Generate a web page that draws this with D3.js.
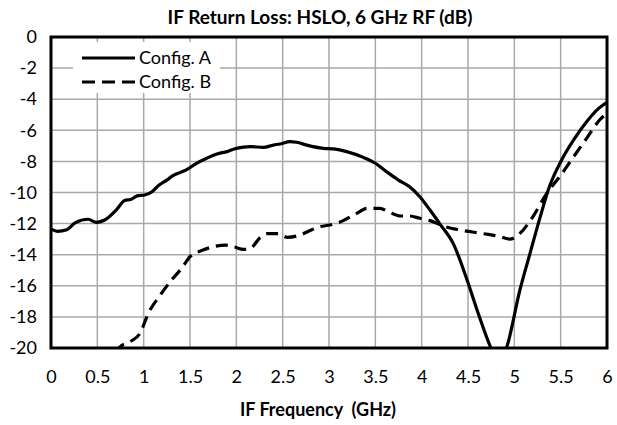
<!DOCTYPE html>
<html>
<head>
<meta charset="utf-8">
<script src="https://cdn.jsdelivr.net/npm/d3@7"></script>
<style>
  body { margin: 0; background: #fff; }
  svg { font-family: Lato, "Open Sans", sans-serif; }
</style>
</head>
<body>
<div id="chart"></div>
<script>
var freqA = [0.0, 0.07, 0.17, 0.26, 0.4, 0.49, 0.58, 0.71, 0.8, 0.86, 0.93, 1.01, 1.09, 1.16, 1.25, 1.32, 1.46, 1.57, 1.68, 1.79, 1.9, 2.0, 2.15, 2.29, 2.4, 2.47, 2.58, 2.65, 2.76, 2.94, 3.05, 3.19, 3.37, 3.5, 3.62, 3.75, 3.87, 3.98, 4.09, 4.2, 4.34, 4.49, 4.61, 4.74, 4.83, 4.92, 5.06, 5.17, 5.28, 5.38, 5.51, 5.64, 5.78, 5.91, 6.0];
var lossA = [-12.35, -12.5, -12.4, -11.95, -11.72, -11.92, -11.77, -11.08, -10.5, -10.45, -10.22, -10.16, -9.95, -9.55, -9.2, -8.9, -8.55, -8.12, -7.8, -7.52, -7.37, -7.16, -7.05, -7.1, -6.95, -6.88, -6.73, -6.77, -6.95, -7.16, -7.2, -7.37, -7.74, -8.12, -8.66, -9.2, -9.63, -10.27, -11.13, -12.05, -13.27, -15.63, -17.77, -19.9, -21.0, -19.9, -16.27, -13.9, -11.55, -9.6, -7.91, -6.62, -5.45, -4.59, -4.2];

var freqB = [0.7, 0.745, 0.85, 0.96, 1.05, 1.18, 1.3, 1.41, 1.5, 1.64, 1.75, 1.88, 1.97, 2.08, 2.15, 2.26, 2.33, 2.45, 2.55, 2.69, 2.79, 2.9, 3.01, 3.12, 3.3, 3.41, 3.55, 3.64, 3.77, 3.87, 3.98, 4.09, 4.23, 4.41, 4.67, 4.85, 4.95, 5.06, 5.2, 5.35, 5.49, 5.64, 5.78, 5.92, 6.0];
var lossB = [-20.3, -19.92, -19.6, -19.06, -17.77, -16.59, -15.63, -14.88, -14.13, -13.7, -13.49, -13.38, -13.49, -13.66, -13.6, -12.88, -12.65, -12.65, -12.88, -12.73, -12.46, -12.2, -12.09, -11.9, -11.34, -11.02, -11.02, -11.23, -11.51, -11.51, -11.66, -11.81, -12.15, -12.41, -12.65, -12.84, -13.0, -12.63, -11.56, -10.05, -8.98, -7.7, -6.52, -5.34, -4.9];

var xTicks = [0, 0.5, 1, 1.5, 2, 2.5, 3, 3.5, 4, 4.5, 5, 5.5, 6];
var yTicks = [0, -2, -4, -6, -8, -10, -12, -14, -16, -18, -20];
var seriesNames = ["Config. A", "Config. B"];

var width = 617, height = 425;
var margin = {top: 37, right: 10, bottom: 77, left: 51};
var w = width - margin.left - margin.right;
var h = height - margin.top - margin.bottom;

var svg = d3.select("#chart").append("svg")
  .attr("width", width)
  .attr("height", height);

var x = d3.scaleLinear().domain([0, 6]).range([0, w]);
var y = d3.scaleLinear().domain([-20, 0]).range([h, 0]);

var g = svg.append("g")
  .attr("transform", "translate(" + margin.left + "," + margin.top + ")");

// grid
g.selectAll(".vgrid").data(xTicks).enter().append("line")
  .attr("x1", d => x(d)).attr("x2", d => x(d))
  .attr("y1", 0).attr("y2", h)
  .attr("stroke", "#a9a9a9").attr("stroke-width", 1.5);
g.selectAll(".hgrid").data(yTicks).enter().append("line")
  .attr("y1", d => y(d)).attr("y2", d => y(d))
  .attr("x1", 0).attr("x2", w)
  .attr("stroke", "#a9a9a9").attr("stroke-width", 1.5);

// axis labels
var xAxis = d3.axisBottom(x).tickValues(xTicks).tickSize(0).tickPadding(22).tickFormat(d3.format("~g"));
var xg = g.append("g").attr("transform", "translate(0," + h + ")").call(xAxis);
var yAxis = d3.axisLeft(y).tickValues(yTicks).tickSize(0).tickPadding(14).tickFormat(d => d === 0 ? "0" : "-" + Math.abs(d));
var yg = g.append("g").call(yAxis);
[xg, yg].forEach(function(a) {
  a.select(".domain").remove();
  a.selectAll("text").attr("font-size", 18).attr("fill", "#000").attr("font-family", "Lato, 'Open Sans', sans-serif");
});

// clip
svg.append("clipPath").attr("id", "clip").append("rect")
  .attr("width", w).attr("height", h);

var line = d3.line()
  .x(d => x(d[0]))
  .y(d => y(d[1]))
  .curve(d3.curveMonotoneX);

var dataA = freqA.map((f, i) => [f, lossA[i]]);
var dataB = freqB.map((f, i) => [f, lossB[i]]);

var plot = g.append("g").attr("clip-path", "url(#clip)");
plot.append("path").datum(dataB)
  .attr("d", line).attr("fill", "none").attr("stroke", "#000")
  .attr("stroke-width", 3.2).attr("stroke-dasharray", "12,7");
plot.append("path").datum(dataA)
  .attr("d", line).attr("fill", "none").attr("stroke", "#000")
  .attr("stroke-width", 3.2);

// frame
g.append("rect").attr("width", w).attr("height", h)
  .attr("fill", "none").attr("stroke", "#000").attr("stroke-width", 3);

// legend
var leg = svg.append("g");
leg.append("rect").attr("x", 73).attr("y", 42).attr("width", 147).attr("height", 51).attr("fill", "#fff");
seriesNames.forEach(function(name, i) {
  var ly = 58 + i * 24;
  leg.append("line").attr("x1", 82).attr("x2", 135).attr("y1", ly).attr("y2", ly)
    .attr("stroke", "#000").attr("stroke-width", 3.2)
    .attr("stroke-dasharray", i === 1 ? "13,7" : null);
  leg.append("text").attr("x", 139).attr("y", ly + 6).attr("font-size", 18).text(name);
});

// titles
svg.append("text").attr("x", 320).attr("y", 24).attr("text-anchor", "middle")
  .attr("font-size", 19).attr("font-weight", "bold").text("IF Return Loss: HSLO, 6 GHz RF (dB)");
svg.append("text").attr("x", 318).attr("y", 416).attr("text-anchor", "middle")
  .style("white-space", "pre")
  .attr("font-size", 18).attr("font-weight", "bold").text("IF Frequency  (GHz)");
</script>
</body>
</html>
